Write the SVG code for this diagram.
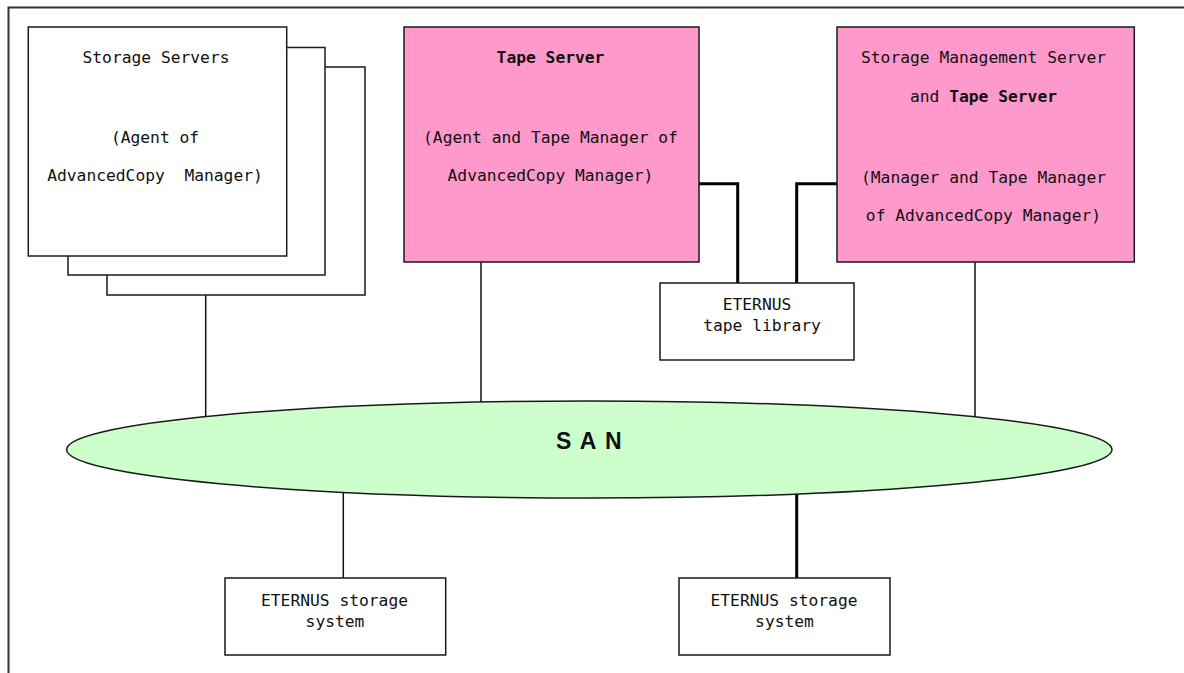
<svg xmlns="http://www.w3.org/2000/svg" width="1184" height="673" viewBox="0 0 1184 673">
<style>
.t{font-family:"DejaVu Sans Mono","Liberation Mono",monospace;font-size:16.3px;fill:#111;text-anchor:middle}
.b{font-weight:bold}
.box{fill:#fff;stroke:#1a1a1a;stroke-width:1.5}
.pink{fill:#ff99cc;stroke:#1a1a1a;stroke-width:1.5}
.thin{fill:none;stroke:#111;stroke-width:1.5}
.thick{fill:none;stroke:#000;stroke-width:3}
</style>
<rect width="1184" height="673" fill="#fff"/>
<g id="frame">
<path d="M8.5 673 V7.5 H1184" fill="none" stroke="#333" stroke-width="2"/>
</g>
<g id="connectors">
<line class="thin" x1="205.7" y1="256" x2="205.7" y2="420"/>
<line class="thin" x1="481" y1="262" x2="481" y2="406"/>
<line class="thin" x1="975" y1="262" x2="975" y2="420"/>
<line class="thin" x1="343.3" y1="488" x2="343.3" y2="578"/>
<line class="thick" x1="796.7" y1="490" x2="796.7" y2="578"/>
<path class="thick" d="M699 183.7 H737.7 V283"/>
<path class="thick" d="M837 183.7 H796.7 V283"/>
</g>
<g id="storage-servers">
<rect class="box" x="107" y="67" width="258" height="228"/>
<rect class="box" x="68" y="47.5" width="257" height="227.5"/>
<rect class="box" x="28.3" y="27" width="258.4" height="229"/>
<text class="t" x="156" y="63">Storage Servers</text>
<text class="t" x="155" y="143">(Agent of</text>
<text class="t" x="155" y="181" xml:space="preserve">AdvancedCopy  Manager)</text>
</g>
<g id="tape-server">
<rect class="pink" x="404" y="27" width="295" height="235"/>
<text class="t b" x="550.5" y="63">Tape Server</text>
<text class="t" x="550.5" y="143">(Agent and Tape Manager of</text>
<text class="t" x="550.5" y="181">AdvancedCopy Manager)</text>
</g>
<g id="management-server">
<rect class="pink" x="837" y="27" width="297.3" height="235"/>
<text class="t" x="983.5" y="63">Storage Management Server</text>
<text class="t" x="983.5" y="102">and <tspan class="b">Tape Server</tspan></text>
<text class="t" x="983.5" y="183">(Manager and Tape Manager</text>
<text class="t" x="983.5" y="221">of AdvancedCopy Manager)</text>
</g>
<g id="tape-library">
<rect class="box" x="660" y="283" width="194" height="77"/>
<text class="t" x="757" y="310">ETERNUS</text>
<text class="t" x="762" y="331">tape library</text>
</g>
<g id="san">
<ellipse cx="589.3" cy="449.5" rx="522.7" ry="48.5" fill="#ccffcc" stroke="#1a1a1a" stroke-width="1.5"/>
<text x="556" y="449.2" font-family="'Liberation Sans',Arial,sans-serif" font-weight="bold" font-size="23" letter-spacing="8.5" fill="#111">SAN</text>
</g>
<g id="storage-system-1">
<rect class="box" x="225" y="578" width="220.7" height="77"/>
<text class="t" x="334.5" y="605.5">ETERNUS storage</text>
<text class="t" x="335" y="627">system</text>
</g>
<g id="storage-system-2">
<rect class="box" x="679" y="578" width="211" height="77"/>
<text class="t" x="784" y="605.5">ETERNUS storage</text>
<text class="t" x="784.5" y="627">system</text>
</g>
</svg>
